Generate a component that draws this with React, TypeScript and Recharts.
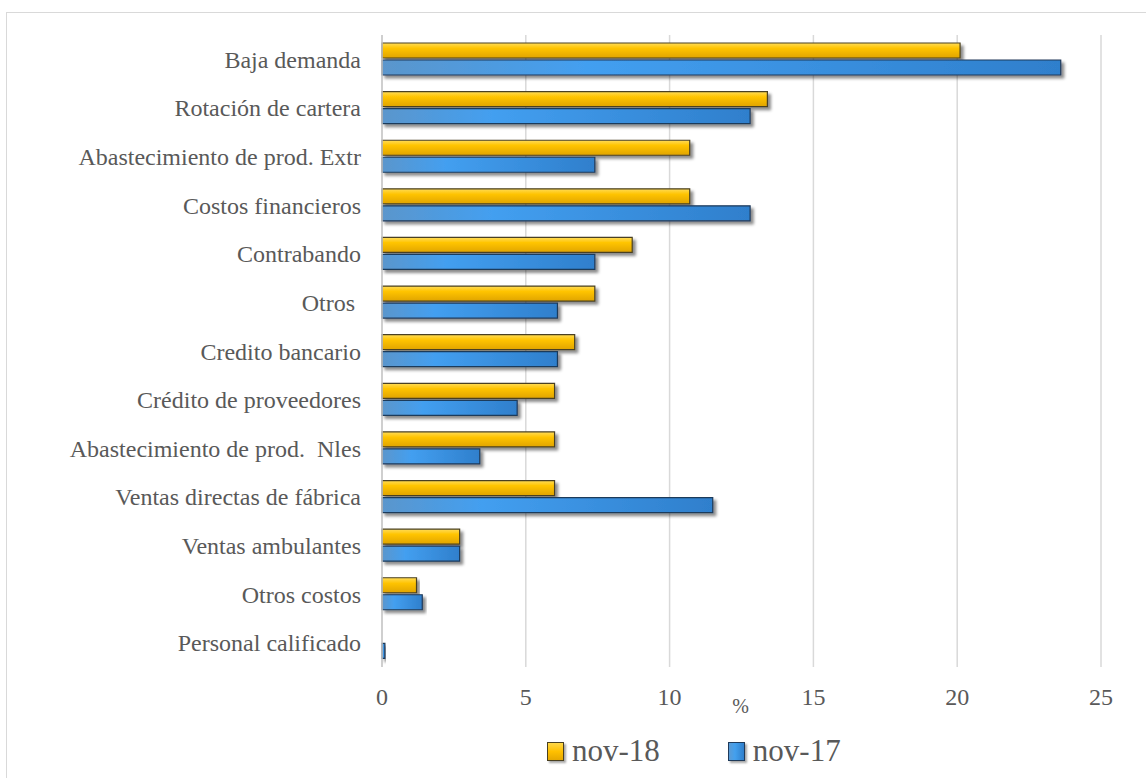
import React from 'react';
import { BarChart, Bar, XAxis, YAxis, CartesianGrid, Legend } from 'recharts';

const categories = [
  'Baja demanda',
  'Rotación de cartera',
  'Abastecimiento de prod. Extr',
  'Costos financieros',
  'Contrabando',
  'Otros\u00A0',
  'Credito bancario',
  'Crédito de proveedores',
  'Abastecimiento de prod.\u00A0 Nles',
  'Ventas directas de fábrica',
  'Ventas ambulantes',
  'Otros costos',
  'Personal calificado',
];
const nov18 = [20.1, 13.4, 10.7, 10.7, 8.7, 7.4, 6.7, 6.0, 6.0, 6.0, 2.7, 1.2, 0];
const nov17 = [23.6, 12.8, 7.4, 12.8, 7.4, 6.1, 6.1, 4.7, 3.4, 11.5, 2.7, 1.4, 0.1];
const xTicks = [0, 5, 10, 15, 20, 25];
const seriesNames = ['nov-18', 'nov-17'];

const data = categories.map((name, i) => ({ name, nov18: nov18[i], nov17: nov17[i] }));

const FONT = 'Liberation Serif';
const TEXT = '#595959';

const LegendContent = () => (
  <div style={{ display: 'flex', alignItems: 'center', fontFamily: FONT, color: TEXT, fontSize: 31 }}>
    <div
      style={{
        width: 15,
        height: 17,
        border: '1px solid #4a4020',
        background: 'linear-gradient(180deg, #ffd84a 0%, #ffc000 50%, #e6a800 100%)',
        boxShadow: '2px 2px 2px rgba(0,0,0,0.35)',
        marginRight: 8,
      }}
    />
    <span style={{ marginRight: 68, lineHeight: '36px' }}>{seriesNames[0]}</span>
    <div
      style={{
        width: 15,
        height: 17,
        border: '1px solid #1f3a5a',
        background: 'linear-gradient(90deg, #5b9bd5 0%, #43a0ee 40%, #2f7fcc 100%)',
        boxShadow: '2px 2px 2px rgba(0,0,0,0.35)',
        marginRight: 8,
      }}
    />
    <span style={{ lineHeight: '36px' }}>{seriesNames[1]}</span>
  </div>
);

const PctLabel = (props: any) => {
  const vb = props.viewBox || {};
  return (
    <text x={vb.x + vb.width / 2 - 1} y={713} textAnchor="middle" fontFamily={FONT} fontSize={20} fill={TEXT}>
      %
    </text>
  );
};

export default function App() {
  return (
    <div style={{ position: 'fixed', left: 0, top: 0, width: 1146, height: 778, overflow: 'hidden', background: '#fff' }}>
      <div
        style={{
          position: 'absolute',
          left: 6,
          top: 12,
          width: 1160,
          height: 790,
          border: '1px solid #d9d9d9',
        }}
      />
      <div style={{ position: 'absolute', left: 0, top: 0 }}>
        <BarChart
          width={1146}
          height={778}
          data={data}
          layout="vertical"
          margin={{ top: 35, right: 45, left: 0, bottom: 71 }}
          barSize={15}
          barGap={2}
        >
          <defs>
            <linearGradient id="gYellow" x1="0" y1="0" x2="0" y2="1">
              <stop offset="0%" stopColor="#ffdc5a" />
              <stop offset="35%" stopColor="#ffc400" />
              <stop offset="100%" stopColor="#e0a400" />
            </linearGradient>
            <linearGradient id="gBlue" x1="0" y1="0" x2="1" y2="0">
              <stop offset="0%" stopColor="#5b96cc" />
              <stop offset="30%" stopColor="#439ff0" />
              <stop offset="100%" stopColor="#2f7fcc" />
            </linearGradient>
            <filter id="shadow" x="-5%" y="-40%" width="115%" height="190%">
              <feDropShadow dx="3" dy="3" stdDeviation="1.6" floodColor="#000" floodOpacity="0.45" />
            </filter>
          </defs>
          <CartesianGrid horizontal={false} vertical stroke="#d9d9d9" strokeWidth={1.5} />
          <XAxis
            type="number"
            domain={[0, 25]}
            ticks={xTicks}
            axisLine={false}
            tickLine={false}
            tickSize={0}
            tickMargin={21}
            height={40}
            tick={{ fill: TEXT, fontFamily: FONT, fontSize: 24 }}
            label={<PctLabel />}
          />
          <YAxis
            type="category"
            dataKey="name"
            width={382}
            axisLine={{ stroke: '#c8c8c8', strokeWidth: 1.5 }}
            tickLine={false}
            tickSize={0}
            tickMargin={21}
            interval={0}
            tick={{ fill: TEXT, fontFamily: FONT, fontSize: 24 }}
          />
          <Bar
            dataKey="nov18"
            name={seriesNames[0]}
            fill="url(#gYellow)"
            stroke="#4a4020"
            strokeWidth={1.2}
            filter="url(#shadow)"
            isAnimationActive={false}
          />
          <Bar
            dataKey="nov17"
            name={seriesNames[1]}
            fill="url(#gBlue)"
            stroke="#1f3a5a"
            strokeWidth={1.2}
            filter="url(#shadow)"
            isAnimationActive={false}
          />
          <Legend
            layout="horizontal"
            verticalAlign="middle"
            align="center"
            content={<LegendContent />}
            wrapperStyle={{ left: 547, top: 733, width: 340, height: 36 }}
          />
        </BarChart>
      </div>
    </div>
  );
}
